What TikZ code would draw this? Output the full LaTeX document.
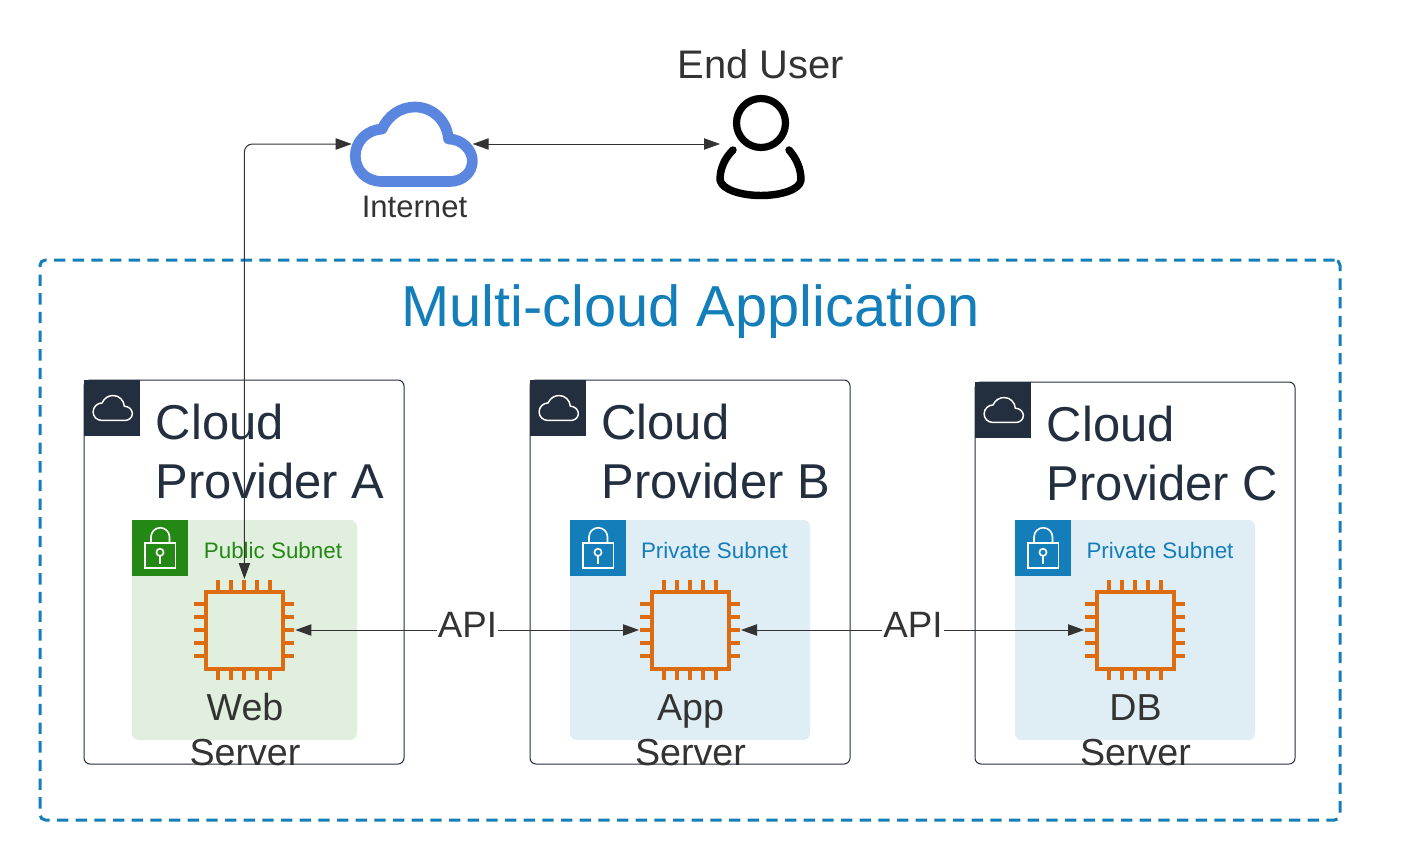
\documentclass[tikz,border=0pt]{standalone}
\usepackage{fontspec}
\setmainfont{Liberation Sans}
\usetikzlibrary{arrows.meta}
\definecolor{inkdark}{HTML}{232F3E}
\definecolor{inkgrey}{HTML}{333333}
\definecolor{awsblue}{HTML}{147EBA}
\definecolor{awsgreen}{HTML}{248814}
\definecolor{paleblue}{HTML}{DFEDF5}
\definecolor{palegreen}{HTML}{E1EFDF}
\definecolor{chiporange}{HTML}{DD6B10}
\definecolor{netblue}{HTML}{5B86E0}
\tikzset{
  x=0.75pt, y=-0.75pt,
  box/.style={anchor=north west, inner sep=0pt, outer sep=0pt},
  provider/.style={box, draw=inkdark, line width=0.75pt, rounded corners=4.5pt,
    minimum width=240pt, minimum height=288pt},
  badge/.style={box, minimum width=42pt, minimum height=42pt},
  subnet/.style={box, rounded corners=5pt, minimum height=165pt},
  title/.style={anchor=north west, inner sep=0pt, align=left, text=inkdark,
    font=\fontsize{36.7}{44.25}\selectfont},
  subnetlabel/.style={inner sep=0pt, font=\fontsize{16.8}{20}\selectfont},
  serverlabel/.style={anchor=north, inner sep=0pt, align=center, text=inkgrey,
    font=\fontsize{28.2}{33.75}\selectfont},
  apilabel/.style={fill=white, inner sep=1pt, text=inkgrey, font=\fontsize{27.5}{32}\selectfont},
  link/.style={draw=inkgrey, line width=0.75pt, {Triangle[length=12pt,width=8.5pt]}-{Triangle[length=12pt,width=8.5pt]}},
  chipframe/.style={inner sep=0pt, outer sep=0pt, minimum size=76.5pt},
}
% Cloud outline, shared by the Internet symbol and the small badges
\newcommand{\cloudpath}{(450,181.5) -- (382,181.5)
  .. controls (366,181.5) and (355.3,170) .. (355.3,156)
  .. controls (355.3,141) and (367,130) .. (382,129)
  .. controls (388,116) and (400,107) .. (415,107)
  .. controls (433,107) and (447,121) .. (448.5,139)
  .. controls (462,139) and (472.4,150) .. (472.4,161)
  .. controls (472.4,173) and (462,181.5) .. (450,181.5) -- cycle}
% Processor symbol: #1 name, #2 x, #3 y (the node spans the pins)
\newcommand{\chipsymbol}[3]{%
  \node[chipframe] (#1) at (#2,#3) {};
  \begin{scope}[shift={(#2,#3)}, draw=chiporange, line width=3pt]
    \draw (-38.5,-38.5) rectangle (38.5,38.5);
    \foreach \d in {-26,-13,0,13,26} {
      \draw (\d,-50) -- (\d,-40);
      \draw (\d,40) -- (\d,50);
      \draw (-50,\d) -- (-40,\d);
      \draw (40,\d) -- (50,\d);
    }
  \end{scope}}
% White cloud glyph inside a provider badge whose corner is #1,#2
\newcommand{\badgecloud}[2]{%
  \begin{scope}[shift={(#1-109.9,#2-20.35)}, scale=.335]
    \draw[white, line width=1.1pt] \cloudpath;
  \end{scope}}
% White padlock glyph inside a subnet badge whose corner is #1,#2
\newcommand{\badgelock}[2]{%
  \begin{scope}[shift={(#1,#2)}, white, line width=1.2pt]
    \draw (13,23) rectangle (43.5,48);
    \draw (19,23) -- (19,17) arc[start angle=180, end angle=360, x radius=9.25, y radius=9.25] -- (37.5,23);
    \draw (28,32.3) circle[radius=3.6];
    \draw (28,36) -- (28,43.5);
  \end{scope}}
\begin{document}
\begin{tikzpicture}
\useasboundingbox[fill=white] (0,0) rectangle (1406,860);

% Application boundary
\node[box, draw=awsblue, line width=2.25pt, dash pattern=on 8.5pt off 5.5pt, rounded corners=4pt,
  minimum width=975pt, minimum height=420pt] (app) at (40,260) {};
\node[inner sep=0pt, text=awsblue, font=\fontsize{43.35}{50}\selectfont] (apptitle) at (690.5,312) {Multi-cloud Application};

% Providers
\node[provider] (provA) at (84,380) {};
\node[provider] (provB) at (530,380) {};
\node[provider, minimum height=286.5pt] (provC) at (975,382) {};
\node[badge, fill=inkdark] (badgeA) at (84,380) {};
\node[badge, fill=inkdark] (badgeB) at (530,380) {};
\node[badge, fill=inkdark] (badgeC) at (975,382) {};
\badgecloud{84}{380}
\badgecloud{530}{380}
\badgecloud{975}{382}
\node[title] (titleA) at (155.7,404) {Cloud\\Provider A};
\node[title] (titleB) at (601.2,404) {Cloud\\Provider B};
\node[title] (titleC) at (1046.7,406) {Cloud\\Provider C};

% Subnets
\node[subnet, fill=palegreen, minimum width=168.75pt] (subA) at (132,520) {};
\node[subnet, fill=paleblue, minimum width=180pt] (subB) at (570,520) {};
\node[subnet, fill=paleblue, minimum width=180pt] (subC) at (1015,520) {};
\node[badge, fill=awsgreen] (lockA) at (132,520) {};
\node[badge, fill=awsblue] (lockB) at (570,520) {};
\node[badge, fill=awsblue] (lockC) at (1015,520) {};
\badgelock{132}{520}
\badgelock{570}{520}
\badgelock{1015}{520}
\node[subnetlabel, text=awsgreen] (subtextA) at (273,550) {Public Subnet};
\node[subnetlabel, text=awsblue] (subtextB) at (714.5,550) {Private Subnet};
\node[subnetlabel, text=awsblue] (subtextC) at (1160,550) {Private Subnet};

% Servers
\chipsymbol{web}{244.4}{630}
\chipsymbol{appsrv}{690}{630}
\chipsymbol{db}{1135}{630}
\node[serverlabel] (webtext) at (245,692.7) {Web\\Server};
\node[serverlabel] (apptext) at (690.5,694.5) {App\\Server};
\node[serverlabel] (dbtext) at (1135.5,694.5) {DB\\Server};

% Internet and end user
\node[inner sep=0pt, outer sep=0pt, minimum width=90.75pt, minimum height=63pt] (internet) at (412.2,144) {};
\draw[netblue, line width=8pt, line join=round] \cloudpath;
\node[inner sep=0pt, text=inkgrey, font=\fontsize{23.3}{28}\selectfont] (internettext) at (414.5,207) {Internet};
\node[inner sep=0pt, outer sep=0pt, minimum width=61.5pt, minimum height=78pt] (user) at (761,144) {};
\draw[black, line width=5.4pt] (761,123) circle[radius=24.5];
\draw[black, line width=5.6pt, line cap=round, line join=round]
  (733,150) .. controls (725,158) and (720,168) .. (720,180)
  .. controls (722,190) and (742,195.5) .. (761,195.5)
  .. controls (780,195.5) and (800,190) .. (801,180)
  .. controls (801,168) and (796,158) .. (789,150);
\node[inner sep=0pt, text=inkgrey, font=\fontsize{29.9}{35}\selectfont] (usertext) at (760.5,64) {End User};

% Connectors
\draw[link, rounded corners=6pt] (web.north) |- (internet.west);
\draw[link] (internet.east) -- (user.west);
\draw[link] (web.east) -- (appsrv.west);
\draw[link] (appsrv.east) -- (db.west);
\node[apilabel] (api1) at (467.5,625) {API};
\node[apilabel] (api2) at (913,625) {API};
\end{tikzpicture}
\end{document}
